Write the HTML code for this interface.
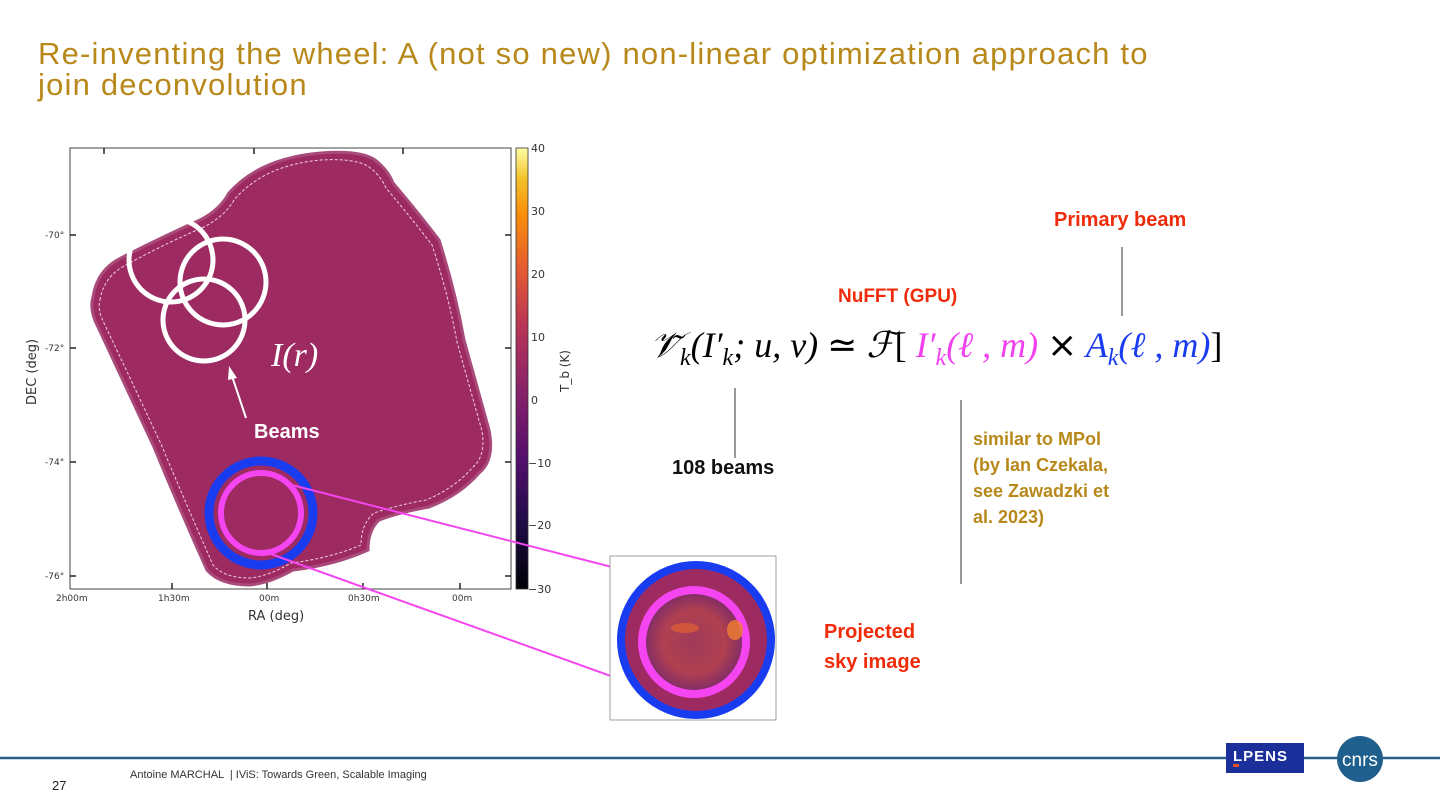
<!DOCTYPE html>
<html><head><meta charset="utf-8"><style>
body{margin:0;width:1440px;height:810px;background:#fff;position:relative;overflow:hidden;font-family:"Liberation Sans",sans-serif}
.abs{position:absolute}
.title{left:38px;top:38px;color:#b8891a;font-size:31px;line-height:31px;letter-spacing:1.2px;white-space:nowrap}
.red{color:#f02b0a;font-weight:bold;font-size:20px}
.gold{color:#b8891a;font-weight:bold;font-size:18px;line-height:26px}
.eq{font-family:"Liberation Serif",serif;font-style:italic;font-size:36px;white-space:nowrap}
</style></head><body>
<div class="abs title">Re-inventing the wheel: A (not so new) non-linear optimization approach to<br>join deconvolution</div>

<svg class="abs" style="left:0;top:0" width="1440" height="810">
<defs>
<linearGradient id="inf" x1="0" y1="1" x2="0" y2="0">
<stop offset="0" stop-color="#000004"/><stop offset="0.15" stop-color="#1f0c48"/><stop offset="0.3" stop-color="#550f6d"/><stop offset="0.45" stop-color="#88226a"/><stop offset="0.6" stop-color="#ba3655"/><stop offset="0.72" stop-color="#e35933"/><stop offset="0.85" stop-color="#f98e09"/><stop offset="0.93" stop-color="#f4c12b"/><stop offset="1" stop-color="#fcffa4"/>
</linearGradient>
<radialGradient id="sky" cx="0.5" cy="0.5" r="0.5"><stop offset="0" stop-color="#a03a5a"/><stop offset="0.6" stop-color="#b04050"/><stop offset="1" stop-color="#7a2a6a"/></radialGradient>
</defs>
<rect x="70" y="148" width="441" height="441" fill="#fff" stroke="#444"/>
<path d="M93,297 Q97,270 121,258 Q160,238 200,220 Q220,210 229,193 Q260,158 321,153 Q360,150 375,160 Q388,170 393,183 Q420,215 439,240 Q455,290 464,340 Q478,390 489,430 Q495,460 479,473 Q460,495 429,507 Q400,512 379,520 Q368,530 368,550 Q335,565 293,570 Q270,583 250,585 Q220,585 207,570 Q180,510 154,447 Q125,385 98,327 Q89,310 93,297 Z" fill="#9e2a62" stroke="#a84a7a" stroke-width="3"/>
<path d="M100,300 Q104,276 126,265 Q164,244 204,227 Q225,216 234,200 Q264,165 321,160 Q356,158 369,167 Q381,176 386,188 Q413,220 432,245 Q448,293 457,342 Q471,392 482,431 Q486,456 473,467 Q455,488 426,500 Q398,505 374,513 Q361,524 361,545 Q331,558 291,563 Q269,576 250,578 Q224,578 213,565 Q187,506 161,444 Q132,382 105,325 Q97,310 100,300 Z" fill="none" stroke="#f0d0e0" stroke-width="1" stroke-dasharray="3,2"/>
<g fill="none" stroke="#fff" stroke-width="5">
<circle cx="171" cy="260" r="42"/><circle cx="223" cy="282" r="43"/><circle cx="204" cy="320" r="41"/>
</g>
<line x1="246" y1="418" x2="232" y2="376" stroke="#fff" stroke-width="2"/>
<polygon points="229,366 237,378 228,380" fill="#fff"/>
<text x="271" y="366" font-family="Liberation Serif" font-style="italic" font-size="34" fill="#fff">I(r)</text>
<text x="254" y="438" font-family="Liberation Sans" font-weight="bold" font-size="20" fill="#fff">Beams</text>
<g font-size="9" fill="#333" font-family="DejaVu Sans">
<text x="45" y="238">-70°</text><text x="45" y="351">-72°</text><text x="45" y="465">-74°</text><text x="45" y="579">-76°</text></g>
<g stroke="#222" stroke-width="1.5">
<line x1="70" y1="235" x2="76" y2="235"/><line x1="70" y1="348" x2="76" y2="348"/><line x1="70" y1="462" x2="76" y2="462"/><line x1="70" y1="576" x2="76" y2="576"/>
<line x1="505" y1="235" x2="511" y2="235"/><line x1="505" y1="348" x2="511" y2="348"/><line x1="505" y1="462" x2="511" y2="462"/><line x1="505" y1="576" x2="511" y2="576"/>
<line x1="172" y1="589" x2="172" y2="583"/><line x1="267" y1="589" x2="267" y2="583"/><line x1="363" y1="589" x2="363" y2="583"/><line x1="460" y1="589" x2="460" y2="583"/>
<line x1="104" y1="148" x2="104" y2="154"/><line x1="254" y1="148" x2="254" y2="154"/><line x1="403" y1="148" x2="403" y2="154"/>
</g>
<g font-size="9" fill="#333" font-family="DejaVu Sans">
<text x="56" y="601">2h00m</text><text x="158" y="601">1h30m</text><text x="259" y="601">00m</text><text x="348" y="601">0h30m</text><text x="452" y="601">00m</text></g>
<text x="248" y="620" font-size="13" fill="#333" font-family="DejaVu Sans">RA (deg)</text>
<text transform="translate(36,405) rotate(-90)" font-size="13" fill="#333" font-family="DejaVu Sans">DEC (deg)</text>
<rect x="516" y="148" width="12" height="441" fill="url(#inf)" stroke="#333" stroke-width="0.8"/>
<g font-size="11" fill="#333" font-family="DejaVu Sans">
<text x="531" y="152">40</text><text x="531" y="215">30</text><text x="531" y="278">20</text><text x="531" y="341">10</text><text x="531" y="404">0</text><text x="528" y="467">−10</text><text x="528" y="529">−20</text><text x="528" y="593">−30</text></g>
<text transform="translate(569,392) rotate(-90)" font-size="12" fill="#333" font-family="DejaVu Sans">T_b (K)</text>
<circle cx="261" cy="513" r="52" fill="none" stroke="#1a3cf0" stroke-width="9"/>
<circle cx="261" cy="513" r="40" fill="none" stroke="#f545f0" stroke-width="6"/>
<line x1="288" y1="484" x2="682" y2="585" stroke="#f545f0" stroke-width="2"/>
<line x1="268" y1="553" x2="636" y2="685" stroke="#f545f0" stroke-width="2"/>
<rect x="610" y="556" width="166" height="164" fill="#fff" stroke="#888" stroke-width="0.8"/>
<circle cx="696" cy="640" r="75" fill="#9e2a62" stroke="#1a3cf0" stroke-width="8"/>
<circle cx="694" cy="642" r="52" fill="url(#sky)" stroke="#f545f0" stroke-width="8"/>
<ellipse cx="735" cy="630" rx="8" ry="10" fill="#f08030" opacity="0.8"/><ellipse cx="685" cy="628" rx="14" ry="5" fill="#e06030" opacity="0.7"/>
<line x1="735" y1="388" x2="735" y2="458" stroke="#333" stroke-width="1"/>
<line x1="961" y1="400" x2="961" y2="584" stroke="#333" stroke-width="1"/>
<line x1="1122" y1="247" x2="1122" y2="316" stroke="#333" stroke-width="1"/>
<line x1="0" y1="758" x2="1440" y2="758" stroke="#2a5f88" stroke-width="2.5"/>
<rect x="1226" y="743" width="78" height="30" fill="#1a2f9a"/>
<text x="1233" y="761" fill="#fff" font-size="15" font-weight="bold" font-family="Liberation Sans" letter-spacing="1">LPENS</text>
<rect x="1233" y="764" width="6" height="3" fill="#e05020"/>
<circle cx="1360" cy="759" r="23" fill="#1f5f8e"/>
<text x="1342" y="766" fill="#fff" font-size="19" font-family="Liberation Sans">cnrs</text>
</svg>

<div class="abs red" style="left:1054px;top:209px">Primary beam</div>
<div class="abs red" style="left:838px;top:286px;font-size:19px">NuFFT (GPU)</div>
<div class="abs eq" style="left:650px;top:324px">𝒱̃<sub style="font-size:24px">k</sub>(<i>I</i>′<sub style="font-size:24px">k</sub>; <i>u</i>, <i>v</i>) <span style="font-style:normal">≃</span> ℱ<span style="font-style:normal">[</span> <span style="color:#f040f0"><i>I</i>′<sub style="font-size:24px">k</sub>(ℓ , <i>m</i>)</span> <span style="font-style:normal;font-family:'DejaVu Sans'">×</span> <span style="color:#1a3cf0"><i>A</i><sub style="font-size:24px">k</sub>(ℓ , <i>m</i>)</span><span style="font-style:normal">]</span></div>
<div class="abs" style="left:672px;top:457px;font-size:20px;font-weight:bold;color:#111">108 beams</div>
<div class="abs gold" style="left:973px;top:426px">similar to MPol<br>(by Ian Czekala,<br>see Zawadzki et<br>al. 2023)</div>
<div class="abs red" style="left:824px;top:617px;line-height:30px">Projected<br>sky image</div>
<div class="abs" style="left:52px;top:778px;font-size:13px;color:#222">27</div>
<div class="abs" style="left:130px;top:769px;font-size:11px;color:#333">Antoine MARCHAL &nbsp;| IViS: Towards Green, Scalable Imaging</div>
</body></html>
